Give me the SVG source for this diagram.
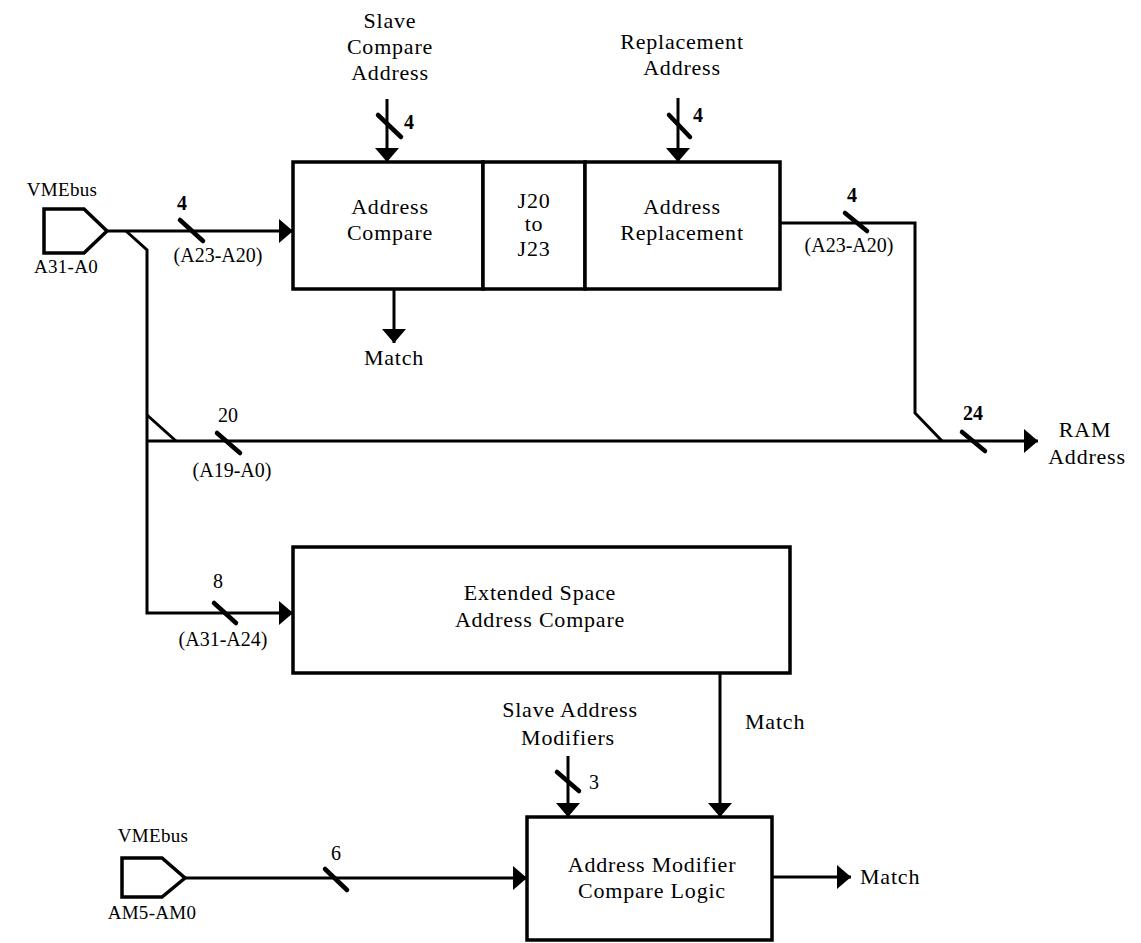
<svg xmlns="http://www.w3.org/2000/svg" width="1141" height="943" viewBox="0 0 1141 943">
<defs>
<marker id="arr" markerUnits="userSpaceOnUse" markerWidth="15" markerHeight="26" refX="14" refY="12" orient="auto">
<path d="M0,0 L14,12 L0,24 Z" fill="#000"/>
</marker>
<style>
text{font-family:"Liberation Serif","Times New Roman",serif;fill:#000;}
.t{font-size:22px;letter-spacing:0.8px;text-anchor:middle;}
.ts{font-size:22px;letter-spacing:0.8px;}
.p{font-size:19px;letter-spacing:0.3px;text-anchor:middle;}
.n{font-size:20px;text-anchor:middle;}
.nb{font-size:20px;font-weight:bold;text-anchor:middle;}
.bl{font-size:20px;text-anchor:middle;}
.box{fill:#fff;stroke:#000;stroke-width:3.5;}
.w{fill:none;stroke:#000;stroke-width:3;}
.a{fill:none;stroke:#000;stroke-width:3;marker-end:url(#arr);}
.sl{stroke:#000;stroke-width:4.5;stroke-linecap:round;}
.pin{fill:#fff;stroke:#000;stroke-width:3.5;stroke-linejoin:miter;}
</style>
</defs>
<rect width="1141" height="943" fill="#fff"/>

<g id="connectors">
<path class="a" d="M107,231 H293"/>
<path class="w" d="M126,231 L147,250 V415"/>
<path class="a" d="M147,415 V613 H293"/>
<path class="w" d="M147,415 L176,441"/>
<path class="a" d="M147,441 H1038"/>
<path class="w" d="M780,223 H915 V413 L942,441"/>
<path class="a" d="M387,99 V162"/>
<path class="a" d="M678,98 V162"/>
<path class="a" d="M394,289 V343"/>
<path class="a" d="M720,673 V817"/>
<path class="a" d="M568,756 V817"/>
<path class="a" d="M185,878 H527"/>
<path class="a" d="M772,877 H851"/>
<line class="sl" x1="180" y1="220" x2="203" y2="241"/>
<line class="sl" x1="217" y1="433" x2="240" y2="453"/>
<line class="sl" x1="962" y1="432" x2="985" y2="451"/>
<line class="sl" x1="845" y1="213" x2="867" y2="231"/>
<line class="sl" x1="378" y1="115" x2="401" y2="137"/>
<line class="sl" x1="669" y1="115" x2="690" y2="137"/>
<line class="sl" x1="214" y1="603" x2="236" y2="623"/>
<line class="sl" x1="557" y1="772" x2="579" y2="791"/>
<line class="sl" x1="325" y1="869" x2="347" y2="890"/>
<text class="nb" x="182" y="210">4</text>
<text class="bl" x="218" y="262">(A23-A20)</text>
<text class="nb" x="852" y="202">4</text>
<text class="bl" x="849" y="252">(A23-A20)</text>
<text class="n" x="228" y="422">20</text>
<text class="bl" x="232" y="477">(A19-A0)</text>
<text class="nb" x="973" y="420">24</text>
<text class="n" x="218" y="588">8</text>
<text class="bl" x="223" y="646">(A31-A24)</text>
<text class="nb" x="409" y="129">4</text>
<text class="nb" x="698" y="122">4</text>
<text class="n" x="594" y="789">3</text>
<text class="n" x="336" y="860">6</text>
<text class="ts" x="745" y="729">Match</text>
</g>

<g id="vme-a">
<text class="p" x="62" y="196">VMEbus</text>
<path class="pin" d="M44,209 H84 L107,231 L84,253 H44 Z"/>
<text class="p" x="66" y="273">A31-A0</text>
</g>

<g id="slave-compare-address">
<text class="t" x="390" y="28">Slave</text>
<text class="t" x="390" y="54">Compare</text>
<text class="t" x="390" y="80">Address</text>
</g>

<g id="replacement-address">
<text class="t" x="682" y="49">Replacement</text>
<text class="t" x="682" y="75">Address</text>
</g>

<g id="address-compare">
<rect class="box" x="293" y="162" width="190" height="127"/>
<text class="t" x="390" y="214">Address</text>
<text class="t" x="390" y="240">Compare</text>
</g>
<g id="jumpers">
<rect class="box" x="483" y="162" width="102" height="127"/>
<text class="t" x="534" y="208">J20</text>
<text class="t" x="534" y="231">to</text>
<text class="t" x="534" y="256">J23</text>
</g>
<g id="address-replacement">
<rect class="box" x="585" y="162" width="195" height="127"/>
<text class="t" x="682" y="214">Address</text>
<text class="t" x="682" y="240">Replacement</text>
</g>

<g id="match-top">
<text class="t" x="394" y="365">Match</text>
</g>

<g id="ram-address">
<text class="t" x="1085" y="437">RAM</text>
<text class="t" x="1087" y="464">Address</text>
</g>

<g id="extended-space-compare">
<rect class="box" x="293" y="547" width="497" height="126"/>
<text class="t" x="540" y="600">Extended Space</text>
<text class="t" x="540" y="627">Address Compare</text>
</g>

<g id="slave-address-modifiers">
<text class="t" x="570" y="717">Slave Address</text>
<text class="t" x="568" y="745">Modifiers</text>
</g>

<g id="vme-am">
<text class="p" x="153" y="842">VMEbus</text>
<path class="pin" d="M122,858 H162 L185,878 L162,897 H122 Z"/>
<text class="p" x="152" y="919">AM5-AM0</text>
</g>

<g id="am-compare-logic">
<rect class="box" x="527" y="817" width="245" height="123"/>
<text class="t" x="652" y="872">Address Modifier</text>
<text class="t" x="652" y="898">Compare Logic</text>
</g>

<g id="match-out">
<text class="ts" x="860" y="884">Match</text>
</g>
</svg>
